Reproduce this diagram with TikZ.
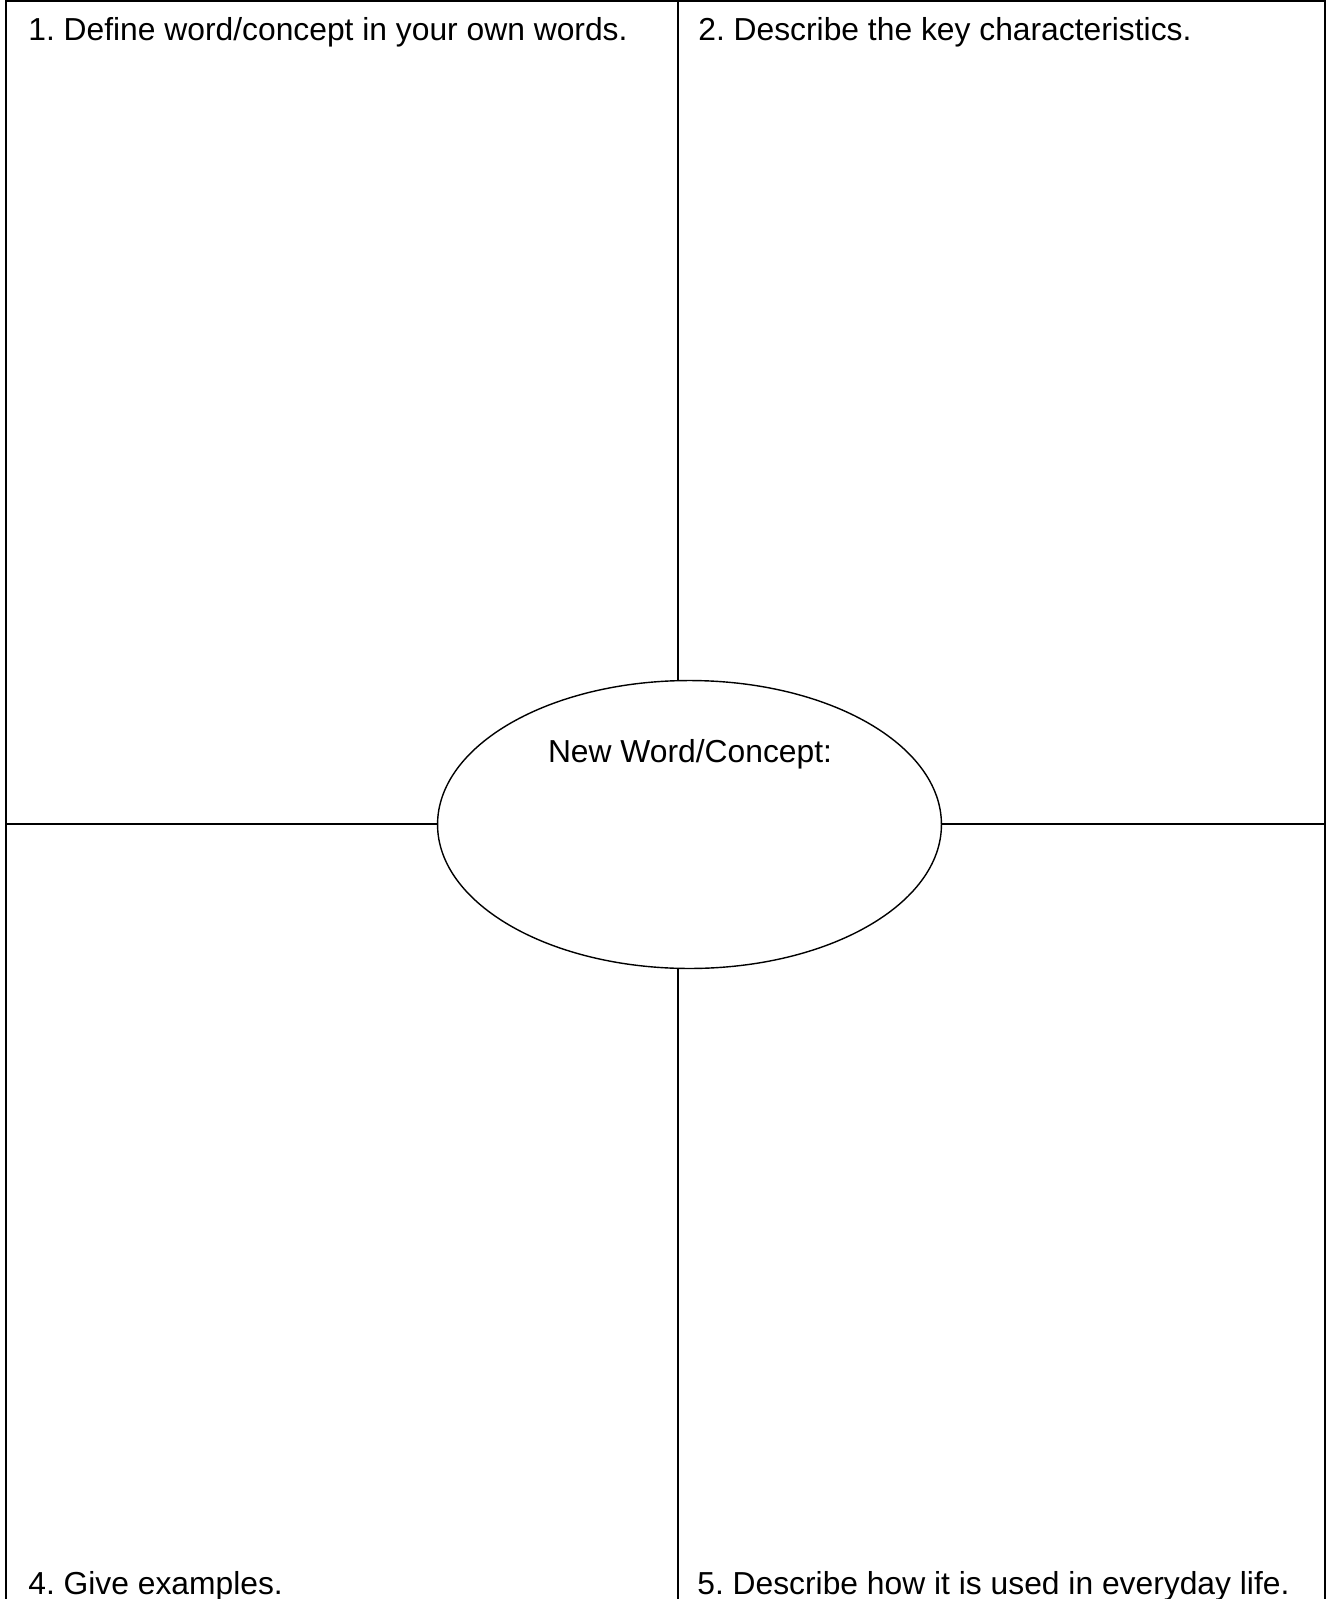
\documentclass[tikz,border=0pt]{standalone}
\usepackage{fontspec}
\setmainfont{Liberation Sans}
\frenchspacing
\usepackage{tikz}
\usetikzlibrary{shapes.geometric, positioning, calc}
\tikzset{
    frame/.style={line width=1.1pt, black},
    concept/.style={draw, ellipse, line width=0.8pt, minimum width=10.08cm,
        minimum height=5.76cm, inner sep=0pt},
    prompt/.style={anchor=base west, inner sep=0pt,
        font=\fontsize{18.1}{21}\selectfont},
    title/.style={anchor=base, inner sep=0pt,
        font=\fontsize{18.1}{21}\selectfont},
}
\begin{document}
\begin{tikzpicture}[x=0.02cm, y=-0.02cm]
        \useasboundingbox (0,0) rectangle (1327,1599);

        % Outer frame (bottom edge runs off the page)
        \coordinate (tl) at (6,1);
        \coordinate (tr) at (1325,1);
        \coordinate (bl) at (6,1640);
        \coordinate (br) at (1325,1640);
        \draw[frame] (bl) -- (tl) -- (tr) -- (br);

        % Central ellipse
        \node[concept] (word) at (689.5,824.5) {};
        \node[title] (wordlbl) at (690,762) {New Word/Concept:};

        % Dividers
        \coordinate (topmid) at (678,1);
        \coordinate (botmid) at (678,1640);
        \coordinate (leftmid) at (6,824);
        \coordinate (rightmid) at (1325,824);
        \draw[frame] (topmid) -- (topmid |- word.north);
        \draw[frame] (botmid) -- (botmid |- word.south);
        \draw[frame] (leftmid) -- (leftmid -| word.west);
        \draw[frame] (rightmid) -- (rightmid -| word.east);

        % Prompts
        \node[prompt] (define) at (28,40) {1. Define word/concept in your own words.};
        \node[prompt] (describe) at (698,40) {2. Describe the key characteristics.};
        \node[prompt] (examples) at (28,1594) {4. Give examples.};
        \node[prompt] (everyday) at (697,1594) {5. Describe how it is used in everyday life.};
    \end{tikzpicture}
\end{document}
